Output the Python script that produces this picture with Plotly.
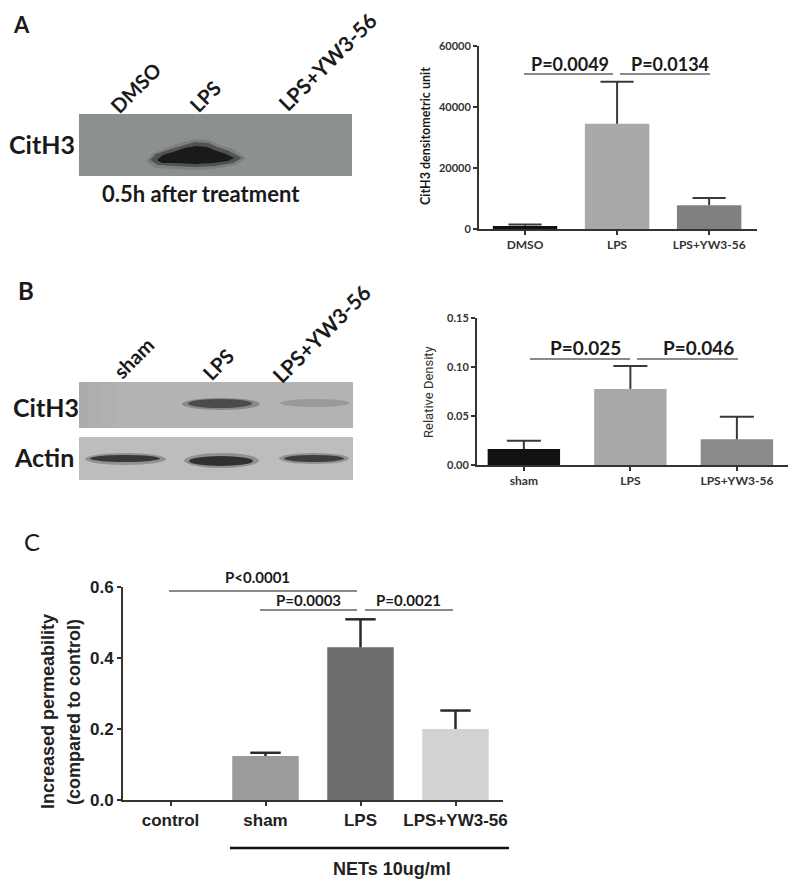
import plotly.graph_objects as go

# ---------------- data ----------------
a_categories = ["DMSO", "LPS", "LPS+YW3-56"]
a_values = [1000, 34500, 7800]
a_errors = [500, 13800, 2400]
a_ticks = [0, 20000, 40000, 60000]
a_ticklabels = ["0", "20000", "40000", "60000"]
a_pvalues = ["P=0.0049", "P=0.0134"]

b_categories = ["sham", "LPS", "LPS+YW3-56"]
b_values = [0.0163, 0.0776, 0.0262]
b_errors = [0.0085, 0.0234, 0.0231]
b_ticks = [0, 0.05, 0.10, 0.15]
b_ticklabels = ["0.00", "0.05", "0.10", "0.15"]
b_pvalues = ["P=0.025", "P=0.046"]

c_categories = ["control", "sham", "LPS", "LPS+YW3-56"]
c_values = [0.0, 0.124, 0.430, 0.200]
c_errors = [0.0, 0.009, 0.079, 0.052]
c_ticks = [0, 0.2, 0.4, 0.6]
c_ticklabels = ["0.0", "0.2", "0.4", "0.6"]
c_pvalues = ["P<0.0001", "P=0.0003", "P=0.0021"]

# page body has an 8px margin: the figure is drawn inside it
OFF = 8
W, H = 800 - 2 * OFF, 888 - 2 * OFF


def px(x):
    return (x - OFF) / W


def py(y):
    return 1 - (y - OFF) / H


fig = go.Figure()

a_colors = ["#111111", "#a9a9a9", "#808080"]
b_colors = ["#111111", "#a8a8a8", "#8a8a8a"]
c_colors = ["#9b9b9b", "#9b9b9b", "#6c6c6c", "#d2d2d2"]


def add_bars(values, errors, colors, width, cap, xa, ya, ecolor, ethick):
    xs = list(range(len(values)))
    fig.add_trace(go.Bar(x=xs, y=values, width=width,
                         marker=dict(color=colors, line=dict(width=0)),
                         xaxis=xa, yaxis=ya, showlegend=False, hoverinfo="skip"))
    # upper-only error whiskers (GraphPad style), built from the data
    ex, ey = [], []
    for i, (v, e) in enumerate(zip(values, errors)):
        if e <= 0:
            continue
        ex += [i, i, None, i - cap, i + cap, None]
        ey += [v, v + e, None, v + e, v + e, None]
    fig.add_trace(go.Scatter(x=ex, y=ey, mode="lines",
                             line=dict(color=ecolor, width=ethick),
                             xaxis=xa, yaxis=ya, showlegend=False,
                             hoverinfo="skip"))


add_bars(a_values, a_errors, a_colors, 0.7, 0.18, "x", "y", "#3a3a3a", 2)
add_bars(b_values, b_errors, b_colors, 0.68, 0.16, "x2", "y2", "#3a3a3a", 2)
add_bars(c_values, c_errors, c_colors, 0.7, 0.16, "x3", "y3", "#2a2a2a", 2.5)

axis_common = dict(showline=True, linecolor="#333333", linewidth=2,
                   ticks="outside", tickcolor="#333333", tickwidth=2,
                   ticklen=4, showgrid=False, zeroline=False, fixedrange=True,
                   automargin=False)


def bold(lst):
    return ["<b>%s</b>" % t for t in lst]


fig.update_layout(
    width=W, height=H,
    margin=dict(l=0, r=0, t=0, b=0, pad=0, autoexpand=False),
    paper_bgcolor="white", plot_bgcolor="white",
    xaxis=dict(domain=[px(479), px(757)], range=[-0.5, 2.52],
               anchor="y", tickvals=list(range(3)), ticktext=bold(a_categories),
               tickfont=dict(family="Lato", size=12, color="#333333"),
               **axis_common),
    yaxis=dict(domain=[py(229), py(46)], range=[0, 60000], anchor="x",
               tickvals=a_ticks, ticktext=bold(a_ticklabels),
               tickfont=dict(family="Lato", size=11, color="#333333"),
               **axis_common),
    xaxis2=dict(domain=[px(477), px(788)], range=[-0.44, 2.48],
                anchor="y2", tickvals=list(range(3)), ticktext=bold(b_categories),
                tickfont=dict(family="Lato", size=12, color="#333333"),
                **axis_common),
    yaxis2=dict(domain=[py(465), py(318)], range=[0, 0.15], anchor="x2",
                tickvals=b_ticks, ticktext=bold(b_ticklabels),
                tickfont=dict(family="Lato", size=11, color="#333333"),
                **axis_common),
    xaxis3=dict(domain=[px(123), px(503)], range=[-0.5, 3.5],
                anchor="y3", tickvals=list(range(4)), ticktext=bold(c_categories),
                tickfont=dict(family="Liberation Sans", size=17, color="#222222"),
                **axis_common),
    yaxis3=dict(domain=[py(800), py(587)], range=[0, 0.6], anchor="x3",
                tickvals=c_ticks, ticktext=bold(c_ticklabels),
                tickfont=dict(family="Liberation Sans", size=17, color="#222222"),
                **axis_common),
)

shapes = []
annotations = []


def text(x, y, s, size, family="Lato", color="#1a1a1a", angle=0, isbold=True):
    annotations.append(dict(
        x=px(x), y=py(y), xref="paper", yref="paper",
        text=("<b>%s</b>" % s) if isbold else s, showarrow=False,
        font=dict(family=family, size=size, color=color),
        textangle=angle, xanchor="center", yanchor="middle"))


def hline(x0, x1, y, color="#8a8a8a", width=2):
    shapes.append(dict(type="line", xref="paper", yref="paper",
                       x0=px(x0), x1=px(x1), y0=py(y), y1=py(y),
                       line=dict(color=color, width=width)))


def rect(x0, y0, x1, y1, color, opacity=1.0):
    shapes.append(dict(type="rect", xref="paper", yref="paper",
                       x0=px(x0), x1=px(x1), y0=py(y1), y1=py(y0),
                       fillcolor=color, opacity=opacity, line=dict(width=0),
                       layer="below"))


def ellipse(x0, y0, x1, y1, color, opacity):
    shapes.append(dict(type="circle", xref="paper", yref="paper",
                       x0=px(x0), x1=px(x1), y0=py(y1), y1=py(y0),
                       fillcolor=color, opacity=opacity, line=dict(width=0),
                       layer="above"))


def blob(pts, color, opacity):
    d = "M " + " L ".join("%.5f,%.5f" % (px(a), py(b)) for a, b in pts) + " Z"
    shapes.append(dict(type="path", xref="paper", yref="paper", path=d,
                       fillcolor=color, opacity=opacity,
                       line=dict(width=0), layer="above"))


# ---------------- panel letters ----------------
text(21, 25, "A", 22)
text(26, 290, "B", 24)
text(32, 541, "C", 24, isbold=False)

# ---------------- blot A ----------------
rect(79, 114, 352, 176, "#8c908e")
band_halo = [(146, 161), (152, 154), (166, 148), (180, 143), (195, 139),
             (210, 140), (220, 145), (233, 149), (246, 158), (236, 165),
             (215, 169), (195, 170), (174, 169), (155, 168)]
band_a = [(150, 160), (156, 154), (168, 150), (181, 146), (195, 142),
          (209, 143), (217, 147), (229, 151), (242, 158), (233, 163),
          (215, 166), (195, 167), (175, 166), (158, 165)]
band_a_in = [(157, 160), (163, 155), (173, 152), (185, 148), (196, 146),
             (207, 147), (214, 150), (226, 154), (234, 158), (228, 161),
             (213, 163), (195, 164), (176, 163), (162, 163)]
blob(band_halo, "#2a2a2a", 0.15)
blob(band_a, "#1c1c1c", 0.45)
blob(band_a_in, "#141414", 0.9)
text(42, 144, "CitH3", 25)
text(135, 88, "DMSO", 20, angle=-45)
text(205, 96, "LPS", 20, angle=-45)
text(327, 61, "LPS+YW3-56", 21, angle=-45)
text(201, 193, "0.5h after treatment", 22)

# ---------------- blot B ----------------
rect(79, 382, 353, 428, "#b3b3b3")
rect(79, 382, 88, 428, "#8a8a8a", 0.2)
rect(88, 382, 100, 428, "#8a8a8a", 0.12)
rect(100, 382, 115, 428, "#8a8a8a", 0.06)
ellipse(182, 398, 260, 410, "#2a2a2a", 0.3)
ellipse(188, 399, 252, 408, "#2a2a2a", 0.65)
ellipse(280, 399, 350, 407, "#444444", 0.22)
rect(79, 437, 353, 480, "#bdbdbd")
ellipse(85, 453, 166, 465, "#2a2a2a", 0.3)
ellipse(90, 455, 160, 462, "#222222", 0.8)
ellipse(184, 453, 259, 468, "#2a2a2a", 0.3)
ellipse(189, 456, 253, 466, "#1e1e1e", 0.85)
ellipse(279, 453, 349, 464, "#2a2a2a", 0.3)
ellipse(284, 455, 344, 462, "#222222", 0.75)
text(46, 407, "CitH3", 25)
text(44, 457, "Actin", 25)
text(133, 358, "sham", 20, angle=-45)
text(218, 364, "LPS", 20, angle=-45)
text(321, 333, "LPS+YW3-56", 21, angle=-45)

# ---------------- chart A extras ----------------
text(425, 136, "CitH3 densitometric unit", 12.5, angle=-90)
hline(524, 613, 74)
hline(620, 710, 74)
text(570, 64, a_pvalues[0], 18)
text(670, 64, a_pvalues[1], 18)

# ---------------- chart B extras ----------------
text(428, 392, "Relative Density", 13, family="Roboto", isbold=False,
     color="#333333", angle=-90)
hline(530, 630, 359)
hline(637, 738, 359)
text(585, 347, b_pvalues[0], 19)
text(698, 347, b_pvalues[1], 19)

# ---------------- chart C extras ----------------
text(48, 712, "Increased permeability", 18, family="Liberation Sans",
     angle=-90, color="#222222")
text(74, 712, "(compared to control)", 18, family="Liberation Sans",
     angle=-90, color="#222222")
hline(169, 357, 591)
hline(260, 357, 610)
hline(365, 453, 610)
text(257, 577, c_pvalues[0], 15)
text(308, 600, c_pvalues[1], 15)
text(408, 600, c_pvalues[2], 15)
hline(230, 509, 848, color="#111111", width=2.5)
text(392, 869, "NETs 10ug/ml", 18, family="Liberation Sans", color="#222222")

fig.update_layout(shapes=shapes, annotations=annotations)
fig.write_html("out.html")
